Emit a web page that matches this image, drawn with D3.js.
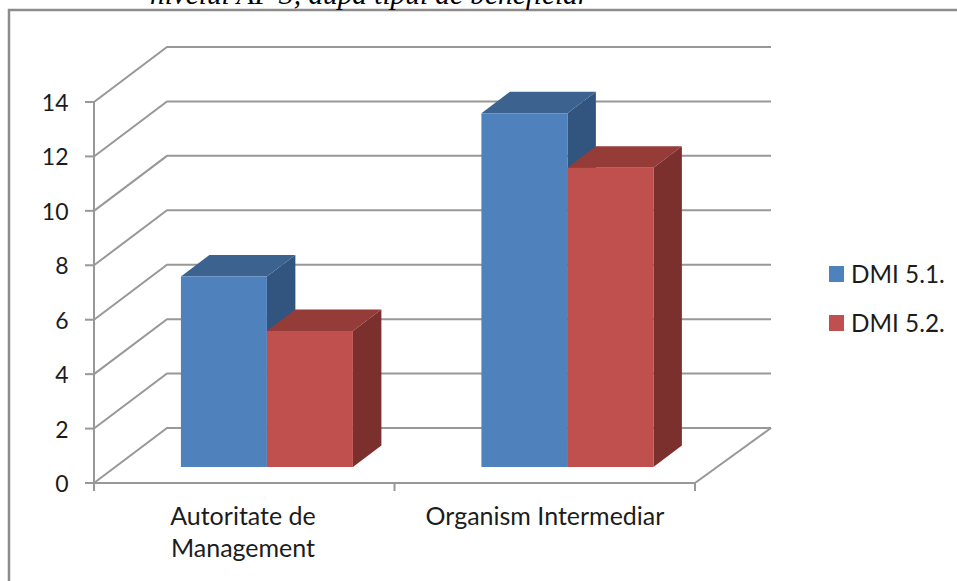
<!DOCTYPE html>
<html>
<head>
<meta charset="utf-8">
<script src="https://cdn.jsdelivr.net/npm/d3@7"></script>
<style>
html,body{margin:0;padding:0;background:#fff;overflow:hidden}
text{font-family:Lato,"Open Sans",sans-serif;fill:#1c1c1c}
</style>
</head>
<body>
<script>
var categories = ["Autoritate de Management", "Organism Intermediar"];
var categoryLines = [["Autoritate de", "Management"], ["Organism Intermediar"]];
var seriesNames = ["DMI 5.1.", "DMI 5.2."];
var dmi51 = [7, 13];
var dmi52 = [5, 11];
var yTicks = [0, 2, 4, 6, 8, 10, 12, 14];
var title = "nivelul AP 3, după tipul de beneficiar";

var grid = "#989898";
var front = ["#4f81bd", "#c0504d"];
var top3d = ["#3c6290", "#953b38"];
var side = ["#31557f", "#7c302e"];

var W = 957, H = 581;
var svg = d3.select("body").append("svg").attr("width", W).attr("height", H);

// frame of the pasted chart, only top and left show
svg.append("path")
    .attr("d", "M9 " + (H + 2) + "V10H" + (W + 2))
    .attr("fill", "none").attr("stroke", "#8c8c8c").attr("stroke-width", 2.5);

svg.append("text").text(title)
    .attr("x", 150).attr("y", 4)
    .style("font-family", "'Liberation Serif',serif")
    .style("font-style", "italic")
    .style("font-size", "29.3px")
    .style("fill", "#000");

var x0 = d3.scaleBand().domain(categories).range([94, 695]);
var x1 = d3.scaleBand().domain(seriesNames).range([1.5, x0.bandwidth() + 1.5]).paddingOuter(0.747).paddingInner(0);
var y = d3.scaleLinear().domain([0, 14]).range([483, 102]);

// depth, 0 = front of floor, 1 = back wall
var depthX = d3.scaleLinear().domain([0, 1]).range([0, 73]);
var depthY = d3.scaleLinear().domain([0, 1]).range([0, -55]);
var barZ0 = 0.29, barZ1 = 0.68;

function pt(px, v, z) {
    return (px + depthX(z)) + "," + (y(v) + depthY(z));
}

// walls
var gridG = svg.append("g").attr("fill", "none").attr("stroke", grid).attr("stroke-width", 2);
gridG.selectAll("polyline").data(yTicks).enter().append("polyline")
    .attr("points", function (d) {
        return pt(94, d, 0) + " " + pt(94, d, 1) + " " + pt(698, d, 1);
    });
// floor edge on the right
gridG.append("polyline").attr("points", pt(695, 0, 0) + " " + pt(698, 0, 1));

// axes
gridG.append("line").attr("x1", 94).attr("x2", 94).attr("y1", y(14)).attr("y2", y(0));
gridG.append("line").attr("x1", 94).attr("x2", 695).attr("y1", y(0)).attr("y2", y(0));
gridG.selectAll("line.ytick").data(yTicks).enter().append("line").attr("class", "ytick")
    .attr("x1", 85).attr("x2", 94).attr("y1", function (d) { return y(d); }).attr("y2", function (d) { return y(d); });
gridG.selectAll("line.xtick").data([94, x0(categories[1]), 695]).enter().append("line").attr("class", "xtick")
    .attr("x1", function (d) { return d; }).attr("x2", function (d) { return d; })
    .attr("y1", y(0)).attr("y2", y(0) + 8);

svg.selectAll("text.ylab").data(yTicks).enter().append("text").attr("class", "ylab")
    .attr("x", 68.5).attr("y", function (d) { return y(d) + 9; })
    .attr("text-anchor", "end").style("font-size", "23px")
    .text(function (d) { return d; });

// bars
var rows = [];
categories.forEach(function (c, i) {
    rows.push({cat: c, s: 0, v: dmi51[i]});
    rows.push({cat: c, s: 1, v: dmi52[i]});
});
var bars = svg.selectAll("g.bar").data(rows).enter().append("g").attr("class", "bar");
bars.append("polygon").attr("fill", function (d) { return side[d.s]; })
    .attr("points", function (d) {
        var r = x0(d.cat) + x1(seriesNames[d.s]) + x1.bandwidth();
        return [pt(r, 0, barZ0), pt(r, 0, barZ1), pt(r, d.v, barZ1), pt(r, d.v, barZ0)].join(" ");
    });
bars.append("polygon").attr("fill", function (d) { return top3d[d.s]; })
    .attr("points", function (d) {
        var l = x0(d.cat) + x1(seriesNames[d.s]), r = l + x1.bandwidth();
        return [pt(l, d.v, barZ0), pt(l, d.v, barZ1), pt(r, d.v, barZ1), pt(r, d.v, barZ0)].join(" ");
    });
bars.append("polygon").attr("fill", function (d) { return front[d.s]; })
    .attr("points", function (d) {
        var l = x0(d.cat) + x1(seriesNames[d.s]), r = l + x1.bandwidth();
        return [pt(l, 0, barZ0), pt(r, 0, barZ0), pt(r, d.v, barZ0), pt(l, d.v, barZ0)].join(" ");
    });

// category labels
categories.forEach(function (c, i) {
    var t = svg.append("text").attr("text-anchor", "middle").style("font-size", "25px");
    categoryLines[i].forEach(function (s, j) {
        t.append("tspan").attr("x", i == 0 ? 243 : 545).attr("y", 525 + j * 32).text(s);
    });
});

// legend
var leg = svg.selectAll("g.leg").data(seriesNames).enter().append("g").attr("class", "leg")
    .attr("transform", function (d, i) { return "translate(829," + (266 + i * 49) + ")"; });
leg.append("rect").attr("width", 15).attr("height", 16)
    .attr("fill", function (d, i) { return front[i]; });
leg.append("text").attr("x", 22).attr("y", 17).style("font-size", "24.3px").text(function (d) { return d; });
</script>
</body>
</html>
